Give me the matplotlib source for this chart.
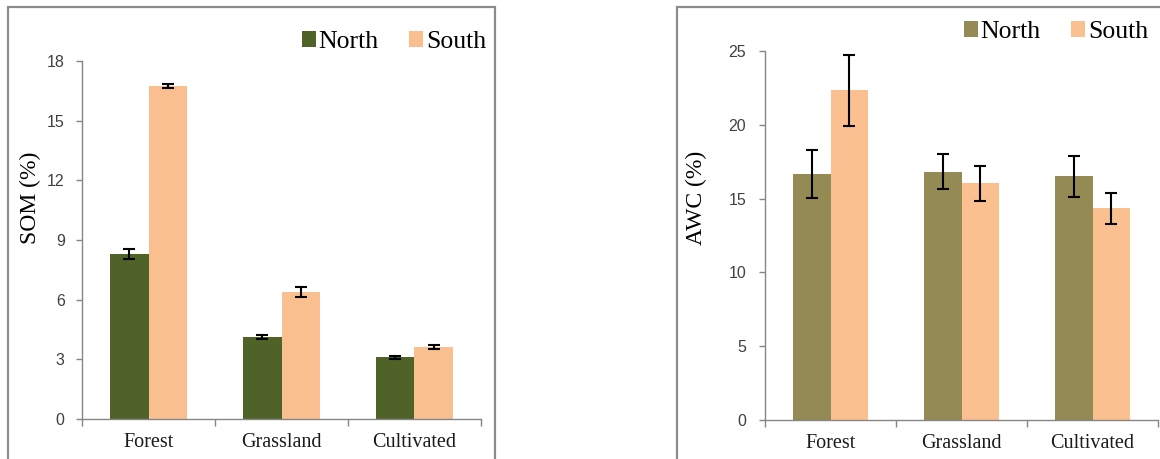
import matplotlib
matplotlib.use("Agg")
import matplotlib.pyplot as plt
from matplotlib.patches import Rectangle
import numpy as np

# === DADOS ===
categorias = ["Forest", "Grassland", "Cultivated"]

som_north = [8.28, 4.10, 3.10]
som_north_err = [0.25, 0.10, 0.08]
som_south = [16.72, 6.40, 3.60]
som_south_err = [0.10, 0.25, 0.10]

awc_north = [16.67, 16.83, 16.50]
awc_north_err = [1.60, 1.20, 1.40]
awc_south = [22.33, 16.03, 14.34]
awc_south_err = [2.40, 1.20, 1.07]

# === ESTILO ===
SERIF = "Liberation Serif"
SANS = "Liberation Sans"
GREY = "#868686"
W, H = 1160, 459

fig = plt.figure(figsize=(W / 100, H / 100), dpi=100)

# molduras dos dois painéis
for x0, x1 in [(8, 495), (677, 1175)]:
    fig.patches.append(Rectangle((x0 / W, -0.1), (x1 - x0) / W, 1.1 - 7 / H,
                                 transform=fig.transFigure, fill=False,
                                 edgecolor="#8c8c8c", linewidth=1.6))


def painel(rect, north, north_err, south, south_err, cores, ymax, ystep,
           ylabel, ylabel_x, leg_right, leg_top, ypad, largura):
    ax = fig.add_axes(rect)
    x = np.arange(len(categorias))
    ax.bar(x - largura / 2, north, largura, color=cores[0], label="North")
    ax.bar(x + largura / 2, south, largura, color=cores[1], label="South")
    ax.errorbar(x - largura / 2, north, yerr=north_err, fmt="none",
                ecolor="black", elinewidth=1.5, capsize=4, capthick=1.5)
    ax.errorbar(x + largura / 2, south, yerr=south_err, fmt="none",
                ecolor="black", elinewidth=1.5, capsize=4, capthick=1.5)

    ax.set_xlim(-0.5, len(categorias) - 0.5)
    ax.set_ylim(0, ymax)
    ax.set_yticks(np.arange(0, ymax + 0.1, ystep))
    ax.set_xticks(np.arange(-0.5, len(categorias), 1.0))
    ax.set_xticklabels([])
    ax.set_xticks(x, minor=True)
    ax.set_xticklabels(categorias, minor=True, fontfamily=SERIF, fontsize=14.5)

    for lado in ["top", "right"]:
        ax.spines[lado].set_visible(False)
    for lado in ["left", "bottom"]:
        ax.spines[lado].set_color(GREY)
        ax.spines[lado].set_linewidth(1.0)

    ax.tick_params(axis="y", length=4.5, width=1.0, color=GREY, pad=ypad,
                   labelsize=11.5, labelcolor="#404040")
    for t in ax.get_yticklabels():
        t.set_fontfamily(SANS)
    ax.tick_params(axis="x", which="major", length=5, width=1.0, color=GREY)
    ax.tick_params(axis="x", which="minor", length=0, pad=10, labelcolor="#1a1a1a")

    fig.text(ylabel_x / W, 1 - 198 / H, ylabel, rotation=90, ha="center",
             va="center", fontfamily=SERIF, fontsize=17)

    ax.legend(loc="upper right", bbox_to_anchor=(leg_right / W, 1 - leg_top / H),
              bbox_transform=fig.transFigure, ncol=2, frameon=False,
              prop={"family": SERIF, "size": 18.5}, handlelength=0.55,
              handleheight=0.55, handletextpad=0.1, columnspacing=1.2,
              borderpad=0, borderaxespad=0)
    return ax


painel([82 / W, 1 - 419 / H, 399 / W, 358 / H],
       som_north, som_north_err, som_south, som_south_err,
       ["#4f6228", "#f9bf8f"], 18, 3, "SOM (%)", 30, 486, 31, 8, 0.286)

painel([765 / W, 1 - 420 / H, 393 / W, 369 / H],
       awc_north, awc_north_err, awc_south, awc_south_err,
       ["#948a54", "#fac090"], 25, 5, "AWC (%)", 696, 1148, 21, 9, 0.29)

fig.savefig("out.png", dpi=100)
